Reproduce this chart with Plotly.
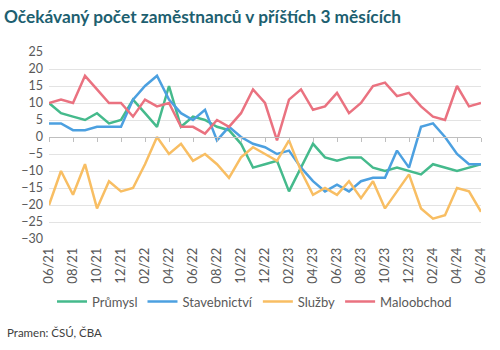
import plotly.graph_objects as go

months = ["06/21","07/21","08/21","09/21","10/21","11/21","12/21","01/22","02/22","03/22","04/22","05/22",
          "06/22","07/22","08/22","09/22","10/22","11/22","12/22","01/23","02/23","03/23","04/23","05/23",
          "06/23","07/23","08/23","09/23","10/23","11/23","12/23","01/24","02/24","03/24","04/24","05/24","06/24"]

prumysl = [10, 7, 6, 5, 7, 4, 5, 11, 7, 3, 15, 3,
           6, 5, 3, 2, -2, -9, -8, -7, -16, -9, -2, -6,
           -7, -6, -6, -9, -10, -9, -10, -11, -8, -9, -10, -9, -8]
stavebnictvi = [4, 4, 2, 2, 3, 3, 3, 11, 15, 18, 11, 7,
                5, 8, -1, 3, 0, -2, -3, -5, -4, -9, -13, -16,
                -14, -16, -13, -12, -12, -4, -9, 3, 4, 0, -5, -8, -8]
sluzby = [-20, -10, -17, -8, -21, -13, -16, -15, -8, 0, -5, -2,
          -7, -5, -8, -12, -6, -3, -5, -7, -1, -10, -17, -15,
          -17, -13, -18, -13, -21, -16, -11, -21, -24, -23, -15, -16, -22]
maloobchod = [10, 11, 10, 18, 14, 10, 10, 6, 11, 9, 10, 3,
              3, 1, 5, 3, 7, 14, 10, -1, 11, 14, 8, 9,
              13, 7, 10, 15, 16, 12, 13, 9, 6, 5, 15, 9, 10]

series = [("Průmysl", prumysl, "#45ba8c"),
          ("Stavebnictví", stavebnictvi, "#4ca0e0"),
          ("Služby", sluzby, "#f8be63"),
          ("Maloobchod", maloobchod, "#ea7280")]

y_ticks = list(range(-30, 30, 5))
x_tick_labels = months[::2]

FONT = "Lato"
W, H = 500, 350
ml, mr, mt, mb = 49.3, 12, 52, 110.7
ph = H - mt - mb
pw = W - ml - mr

fig = go.Figure()
idx = list(range(len(months)))
for name, vals, col in series:
    fig.add_trace(go.Scatter(x=idx, y=vals, mode="lines", name=name,
                             line=dict(color=col, width=2.5)))

ymin, ymax = -30, 25
zero_pos = (0 - ymin) / (ymax - ymin)

fig.update_layout(
    width=W, height=H,
    margin=dict(l=ml, r=mr, t=mt, b=mb, pad=0),
    paper_bgcolor="white", plot_bgcolor="white",
    font=dict(family=FONT, size=12, color="#595959"),
    title=dict(text="<b>Očekávaný počet zaměstnanců v příštích 3 měsících</b>",
               xref="container", x=0.008, xanchor="left",
               yref="container", y=1 - 17 / H, yanchor="middle",
               font=dict(family=FONT, size=17.3, color="#1d5f70")),
    xaxis=dict(range=[0, 36], tickvals=idx[::2], ticktext=x_tick_labels,
               tickangle=-90, showgrid=False, zeroline=False, showline=False,
               ticks="", tickfont=dict(size=13, color="#595959"), ticklabelstandoff=5),
    xaxis2=dict(range=[0, 36], overlaying="x", anchor="free", position=zero_pos,
                side="bottom", tickvals=idx[::2], showticklabels=False,
                ticks="outside", ticklen=4, tickcolor="#bfbfbf", tickwidth=1,
                showline=True, linecolor="#bfbfbf", linewidth=1, showgrid=False,
                zeroline=False),
    yaxis=dict(range=[ymin, ymax], tickvals=y_ticks, showgrid=True,
               gridcolor="#e3e3e3", gridwidth=1, zeroline=False, showline=False,
               ticks="", tickfont=dict(size=12.5, color="#595959"), ticklabelstandoff=5),
    legend=dict(orientation="h", xanchor="center", x=(258 - ml) / pw,
                yanchor="middle", y=(mt + ph - 302) / ph,
                font=dict(size=13, color="#595959"), traceorder="normal",
                itemwidth=30, bgcolor="rgba(0,0,0,0)"),
    showlegend=True,
)
# invisible trace on xaxis2 so the axis renders
fig.add_trace(go.Scatter(x=[0, 36], y=[None, None], xaxis="x2", showlegend=False,
                         hoverinfo="skip", mode="lines"))

fig.add_annotation(text="Pramen: ČSÚ, ČBA", xref="paper", yref="paper",
                   x=(5 - ml) / pw, y=(mt + ph - 333) / ph, xanchor="left", yanchor="middle",
                   showarrow=False, font=dict(family=FONT, size=11.5, color="#404040"))

fig.write_html("out.html")
